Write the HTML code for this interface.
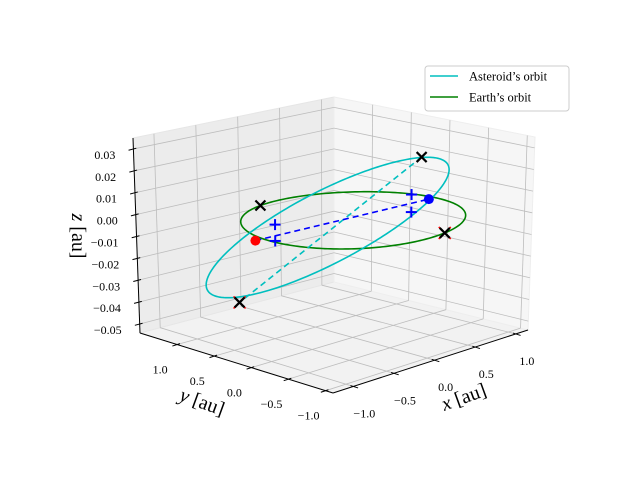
<!DOCTYPE html>
<html><head><meta charset="utf-8"><style>
html,body{margin:0;padding:0;background:#fff;}
svg{display:block;font-family:"Liberation Serif",serif;}
</style></head><body>
<svg id="chart" width="640" height="480" viewBox="0 0 640 480">
<g id="panes"></g>
<g id="grid"></g>
<g id="axes"></g>
<g id="series"></g>
<g id="legend">
  <rect x="425" y="66" width="144" height="45" rx="3" fill="#fff" fill-opacity="0.85" stroke="#cccccc"/>
  <g>
    <line x1="430" y1="76" x2="458" y2="76" stroke="#00bfbf" stroke-width="1.6"/>
    <text x="469" y="80.5" font-size="12.5" fill="#000">Asteroid’s orbit</text>
  </g>
  <g>
    <line x1="430" y1="97" x2="458" y2="97" stroke="#008000" stroke-width="1.6"/>
    <text x="469" y="101.5" font-size="12.5" fill="#000">Earth’s orbit</text>
  </g>
</g>
</svg>
<script>
// ---- data ----
const xTicks = [-1.0, -0.5, 0.0, 0.5, 1.0];
const yTicks = [-1.0, -0.5, 0.0, 0.5, 1.0];
const zTicks = [-0.05, -0.04, -0.03, -0.02, -0.01, 0.00, 0.01, 0.02, 0.03];
const xTickLabels = ["−1.0", "−0.5", "0.0", "0.5", "1.0"];
const yTickLabels = ["−1.0", "−0.5", "0.0", "0.5", "1.0"];
const zTickLabels = ["−0.05", "−0.04", "−0.03", "−0.02", "−0.01", "0.00", "0.01", "0.02", "0.03"];
const xLim = [-1.25, 1.15];
const yLim = [-1.1, 1.5];
const zLim = [-0.0541, 0.035];
const earthRadius = [1.0];
const asteroidCenter = [-0.164, 0.170, -0.00375];
const asteroidAxisA = [0.994, -0.5, 0.0235];
const asteroidAxisB = [0.495, 0.3, -0.0217];
const nodeRed = [-1.083, 0.105, 0.0];
const nodeBlue = [0.928, 0.015, 0.0];
const plusX = [-0.716, -0.716, 0.843, 0.843];
const plusY = [0.246, 0.246, 0.150, 0.150];
const plusZ = [0.0024, -0.0050, 0.0019, -0.0063];
const blackXX = [0.865, -1.2, -0.225, 0.208];
const blackXY = [0.05, 0.2, 0.974, -0.978];
const blackXZ = [0.02, -0.0275, 0.0, 0.0];
const redXX = [-1.2, 0.208];
const redXY = [0.2, -0.978];
const redXZ = [-0.0275, 0.0];

// ---- projection (approximate view of the matplotlib 3D box) ----
const C = {F:[333,393,203,0], R:[528,330,193,7], L:[140,333,195,-7], B:[334,282,185,0]};
function proj(x,y,z){
  const u=(x-xLim[0])/(xLim[1]-xLim[0]);
  const v=(y-yLim[0])/(yLim[1]-yLim[0]);
  const w=(z-zLim[0])/(zLim[1]-zLim[0]);
  const wF=(1-u)*(1-v), wR=u*(1-v), wL=(1-u)*v, wB=u*v;
  const k=i=>wF*C.F[i]+wR*C.R[i]+wL*C.L[i]+wB*C.B[i];
  return [k(0)+k(3)*w, k(1)-k(2)*w];
}
const NS="http://www.w3.org/2000/svg";
function mk(parent,tag,attrs){const e=document.createElementNS(NS,tag);for(const k in attrs)e.setAttribute(k,attrs[k]);parent.appendChild(e);return e;}
function pts(arr){return arr.map(p=>p[0].toFixed(2)+","+p[1].toFixed(2)).join(" ");}
const gP=document.getElementById('panes'),gG=document.getElementById('grid'),gA=document.getElementById('axes'),gS=document.getElementById('series');
const [x0,x1]=xLim,[y0,y1]=yLim,[z0,z1]=zLim;

// panes
let e;
e=mk(gP,'polygon',{points:pts([proj(x0,y0,z0),proj(x1,y0,z0),proj(x1,y1,z0),proj(x0,y1,z0)]),fill:'#f2f2f2',stroke:'#f2f2f2'});


e=mk(gP,'polygon',{points:pts([proj(x0,y1,z0),proj(x1,y1,z0),proj(x1,y1,z1),proj(x0,y1,z1)]),fill:'#ececec',stroke:'#e6e6e6'});


e=mk(gP,'polygon',{points:pts([proj(x1,y0,z0),proj(x1,y1,z0),proj(x1,y1,z1),proj(x1,y0,z1)]),fill:'#f6f6f6',stroke:'#eeeeee'});



// grid
function gl(a,b){const l=mk(gG,'line',{x1:a[0],y1:a[1],x2:b[0],y2:b[1],stroke:'#bdbdbd','stroke-width':0.8});

}
xTicks.forEach(x=>{gl(proj(x,y0,z0),proj(x,y1,z0));gl(proj(x,y1,z0),proj(x,y1,z1));});
yTicks.forEach(y=>{gl(proj(x0,y,z0),proj(x1,y,z0));gl(proj(x1,y,z0),proj(x1,y,z1));});
zTicks.forEach(z=>{gl(proj(x0,y1,z),proj(x1,y1,z));gl(proj(x1,y0,z),proj(x1,y1,z));});

// axes lines
function al(a,b,name){const l=mk(gA,'line',{x1:a[0],y1:a[1],x2:b[0],y2:b[1],stroke:'#000','stroke-width':1});

}
al(proj(x0,y0,z0),proj(x1,y0,z0),'x-axis-line');
al(proj(x0,y0,z0),proj(x0,y1,z0),'y-axis-line');
al(proj(x0,y1,z0),proj(x0,y1,z1),'z-axis-line');
function norm(a,b){const dx=b[0]-a[0],dy=b[1]-a[1],n=Math.hypot(dx,dy);return [dx/n,dy/n];}
const dX=norm(proj(x0,y1,z0),proj(x0,y0,z0));
const dY=norm(proj(x1,y0,z0),proj(x0,y0,z0));
const dZ=norm(proj(x1,y1,z0),proj(x0,y1,z0));
function tick(p,d,name){const l=mk(gA,'line',{x1:p[0]-d[0]*3,y1:p[1]-d[1]*3,x2:p[0]+d[0]*5,y2:p[1]+d[1]*5,stroke:'#000','stroke-width':1});

}
function label(x,y,txt,anchor,name){const t=mk(gA,'text',{x:x,y:y,'font-size':12,'text-anchor':anchor,fill:'#000'});t.textContent=txt;

}
xTicks.forEach((x,i)=>{const p=proj(x,y0,z0);tick(p,dX,'x-tick');label(p[0]+11,p[1]+31,xTickLabels[i],'middle','x-tick-label');});
yTicks.forEach((y,i)=>{const p=proj(x0,y,z0);tick(p,dY,'y-tick');label(p[0]-17,p[1]+29,yTickLabels[i],'middle','y-tick-label');});
zTicks.forEach((z,i)=>{const p=proj(x0,y1,z);tick(p,dZ,'z-tick');label(p[0]-18,p[1]+10,zTickLabels[i],'end','z-tick-label');});
function axTitle(x,y,rot,name){const t=mk(gA,'text',{x:x,y:y,'font-size':20,'text-anchor':'middle',fill:'#000',transform:`rotate(${rot} ${x} ${y})`});
t.innerHTML='<tspan font-style="italic">'+name[0]+'</tspan> [au]';

}
axTitle(200,408,20,'y');
axTitle(466,403,-20,'x');
axTitle(72,236,90,'z');

// series
function poly(points,stroke,dash,name){const l=mk(gS,'polyline',{points:pts(points),fill:'none',stroke:stroke,'stroke-width':1.6,'stroke-dasharray':dash||'none'});

}
const N=240;
const earth=[],ast=[];
for(let i=0;i<=N;i++){const t=2*Math.PI*i/N;
  earth.push(proj(earthRadius[0]*Math.cos(t),earthRadius[0]*Math.sin(t),0));
  ast.push(proj(asteroidCenter[0]+asteroidAxisA[0]*Math.cos(t)+asteroidAxisB[0]*Math.sin(t),
                asteroidCenter[1]+asteroidAxisA[1]*Math.cos(t)+asteroidAxisB[1]*Math.sin(t),
                asteroidCenter[2]+asteroidAxisA[2]*Math.cos(t)+asteroidAxisB[2]*Math.sin(t)));}
poly(earth,'#008000',null,'earth-orbit');
poly(ast,'#00bfbf',null,'asteroid-orbit');
poly([proj(blackXX[0],blackXY[0],blackXZ[0]),proj(blackXX[1],blackXY[1],blackXZ[1])],'#00bfbf','6,4','apsides-line');
poly([proj(...nodeRed),proj(...nodeBlue)],'#0000ff','6,4','node-line');
function xmark(p,color,s,w,name){const g=mk(gS,'g',{});
mk(g,'line',{x1:p[0]-s,y1:p[1]-s,x2:p[0]+s,y2:p[1]+s,stroke:color,'stroke-width':w});
mk(g,'line',{x1:p[0]-s,y1:p[1]+s,x2:p[0]+s,y2:p[1]-s,stroke:color,'stroke-width':w});

}
function plus(p,name){const g=mk(gS,'g',{});
mk(g,'line',{x1:p[0]-5.5,y1:p[1],x2:p[0]+5.5,y2:p[1],stroke:'#0000ff','stroke-width':2});
mk(g,'line',{x1:p[0],y1:p[1]-5.5,x2:p[0],y2:p[1]+5.5,stroke:'#0000ff','stroke-width':2});

}
plusX.forEach((x,i)=>plus(proj(x,plusY[i],plusZ[i]),'plus-marker'));
redXX.forEach((x,i)=>xmark(proj(x,redXY[i],redXZ[i]),'#ff0000',6,1.6,'red-x-marker'));
blackXX.forEach((x,i)=>xmark(proj(x,blackXY[i],blackXZ[i]),'#000000',5,2.2,'black-x-marker'));
let c=proj(...nodeRed);
e=mk(gS,'circle',{cx:c[0],cy:c[1],r:5,fill:'#ff0000'});


c=proj(...nodeBlue);
e=mk(gS,'circle',{cx:c[0],cy:c[1],r:5,fill:'#0000ff'});


</script>
</body></html>
